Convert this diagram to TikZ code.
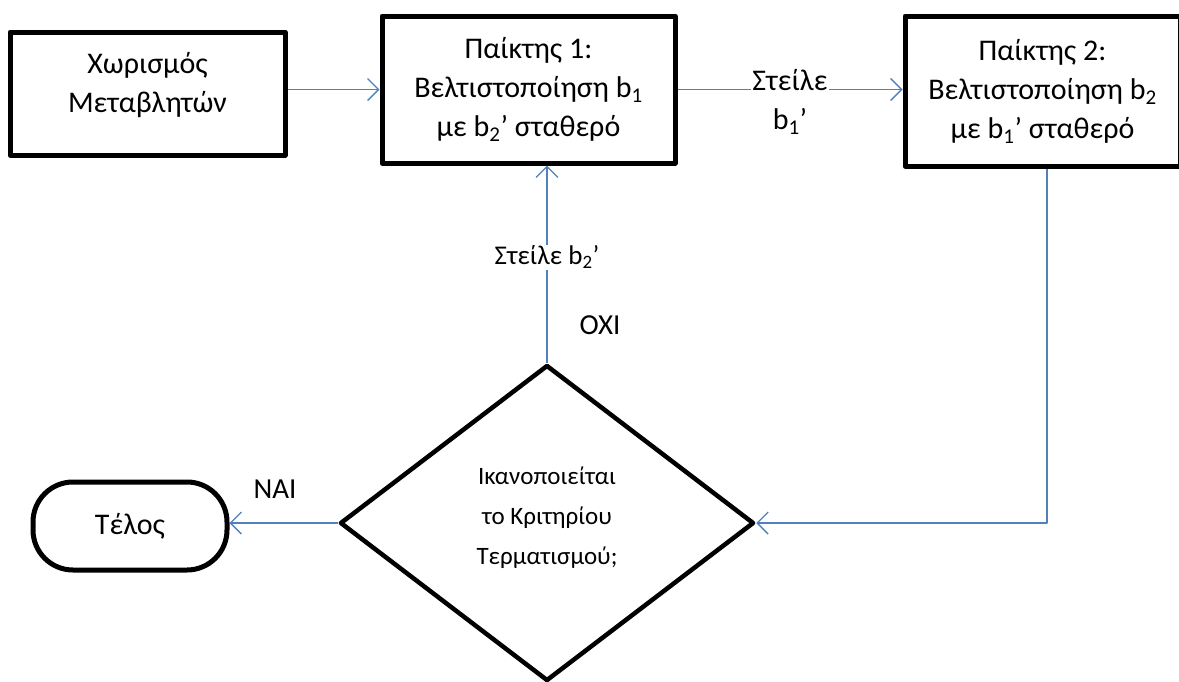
\documentclass[tikz,border=0pt]{standalone}
\usepackage{fontspec}
\setmainfont{Carlito}
\usetikzlibrary{shapes.geometric,arrows.meta}
\definecolor{arrowblue}{RGB}{79,129,189}
\begin{document}
\begin{tikzpicture}[x=1pt,y=-1pt, line join=round,
    block/.style={draw,line width=5pt,inner sep=0pt,align=center,font=\fontsize{30}{39}\selectfont},
    flow/.style={draw=arrowblue,line width=1.3pt,-{Straight Barb[length=11pt,width=22pt]}},
    lbl/.style={fill=white,inner sep=1pt,align=center,font=\fontsize{30}{39}\selectfont}]
    \useasboundingbox (0,0) rectangle (1179,681);
    % boxes
    \node[block,minimum width=275pt,minimum height=123pt,text depth=23pt] (split) at (147.5,93.5) {Χωρισμός\\Μεταβλητών};
    \node[block,minimum width=293pt,minimum height=147pt] (player1) at (528.5,89.5)
        {Παίκτης 1:\\Βελτιστοποίηση b\textsubscript{1}\\με b\textsubscript{2}’ σταθερό};
    \node[block,minimum width=275pt,minimum height=150pt] (player2) at (1042.5,91)
        {Παίκτης 2:\\Βελτιστοποίηση b\textsubscript{2}\\με b\textsubscript{1}’ σταθερό};
    \node[block,rounded corners=40pt,minimum width=194pt,minimum height=88pt] (stop) at (130,526) {Τέλος};
    \node[draw,diamond,line width=4.5pt,minimum width=414pt,minimum height=316pt,inner sep=0pt,
        align=center,font=\fontsize{25}{40}\selectfont,text depth=14pt] (check) at (547,523)
        {Ικανοποιείται\\το Κριτηρίου\\Τερματισμού;};
    \coordinate (turn) at (1047,523);
    % connectors
    \draw[flow] (split.east |- player1.west) -- (player1.west);
    \draw[flow] (player1.east) -- (player1.east -| player2.west)
        node[lbl,midway,yshift=-12pt] {Στείλε\\b\textsubscript{1}’};
    \draw[flow] (player2.south -| turn) -- (turn) -- (check.east);
    \draw[flow] (check.west) -- (check.west -| stop.east);
    \draw[flow] (check.north) -- (check.north |- player1.south)
        node[lbl,pos=0.535,font=\fontsize{27}{30}\selectfont] {Στείλε b\textsubscript{2}’};
    \node[font=\fontsize{29}{34}\selectfont] (no) at (600,325) {ΟΧΙ};
    \node[font=\fontsize{29}{34}\selectfont] (yes) at (275,489) {ΝΑΙ};
\end{tikzpicture}
\end{document}
